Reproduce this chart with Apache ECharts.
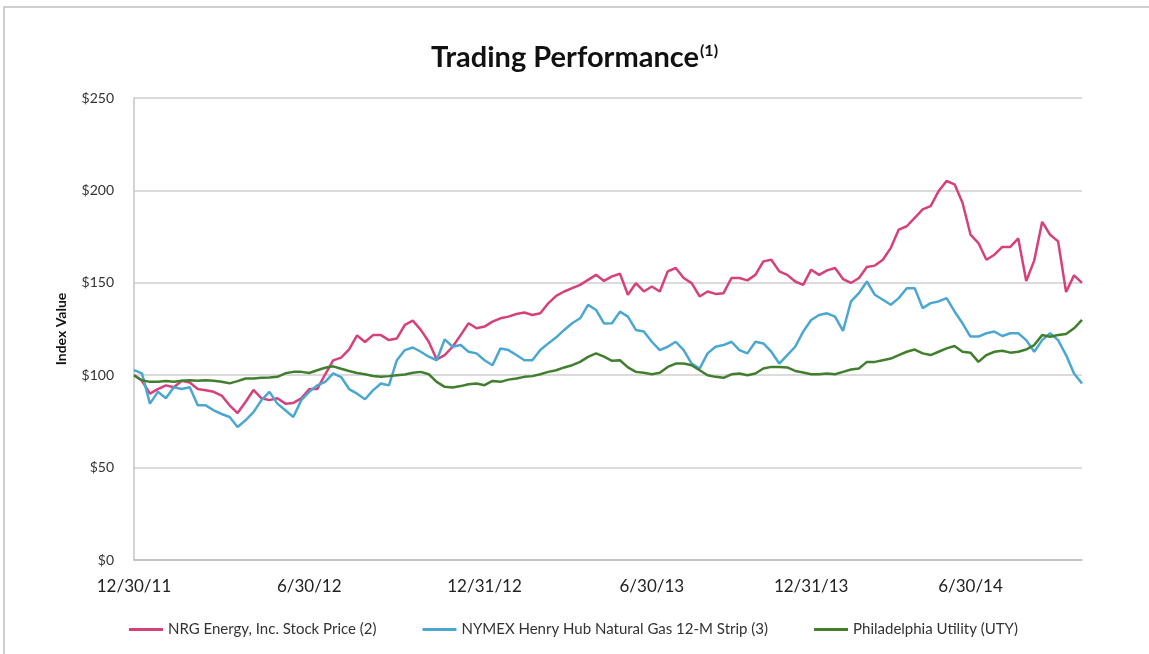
<!DOCTYPE html>
<html>
<head>
<meta charset="utf-8">
<title>Trading Performance</title>
<script src="https://cdn.jsdelivr.net/npm/echarts@6.0.0/dist/echarts.min.js"></script>
<style>
    body { margin: 0; background: #fff; }
    #chart { width: 1149px; height: 654px; }
</style>
</head>
<body>
<div id="chart"></div>
<script>
// x tick labels and the point index they sit on
var tickLabels = ['12/30/11', '6/30/12', '12/31/12', '6/30/13', '12/31/13', '6/30/14'];
var tickIndex = [0, 22, 44, 65, 85, 105];

var seriesNames = ['NRG Energy, Inc. Stock Price (2)', 'NYMEX Henry Hub Natural Gas 12-M Strip (3)', 'Philadelphia Utility (UTY)'];

// index values
var nrg = [
    100, 97, 90, 92.5, 94.5, 93.5, 97, 96, 92.5, 91.8,
    91, 89, 83.7, 79.5, 85.5, 92, 87.5, 86.5, 87.5, 84.6,
    85, 87.5, 92.5, 92.5, 100.5, 108, 109.5, 114, 121.5, 118,
    121.7, 121.7, 119, 119.9, 127.2, 129.5, 124.5, 118.1, 108.5, 110.9,
    115.4, 121.7, 128.1, 125.4, 126.3, 129, 130.8, 131.7, 133.1, 133.9,
    132.6, 133.5, 138.9, 142.9, 145.3, 147.1, 148.9, 151.6, 154.3, 151,
    153.5, 154.9, 143.5, 149.8, 145.3, 148, 145.3, 156.2, 158, 152.6,
    149.8, 142.6, 145.3, 144, 144.4, 152.6, 152.6, 151.3, 154.3, 161.6,
    162.5, 156.2, 154.3, 150.7, 148.9, 157.1, 154.3, 156.7, 158, 152,
    149.9, 152.6, 158.6, 159.3, 162.5, 168.9, 178.8, 180.6, 185.1, 189.7,
    191.5, 199.6, 205.1, 203.3, 193.3, 176.1, 171.5, 162.5, 165.2, 169.4,
    169.4, 174, 151, 162, 183, 176, 172.4, 145, 154, 150
];
var nymex = [
    102.7, 101, 84.6, 91, 87.5, 93.5, 92.5, 93.5, 83.7, 83.7,
    81, 79, 77.4, 72, 75.6, 80, 86.5, 91, 84.6, 81,
    77.4, 86.5, 91, 94.5, 96.4, 101, 99, 92.5, 90, 87,
    91.8, 95.5, 94.5, 108.1, 113.6, 115, 112.7, 110, 108.1, 119.4,
    115.4, 116.3, 112.7, 111.8, 108.1, 105.4, 114.5, 113.6, 110.9, 108.1,
    108.1, 113.6, 117.2, 120.5, 124.5, 128.1, 130.8, 138.1, 135.3, 128,
    128.1, 134.4, 131.7, 124.5, 123.6, 118.1, 113.6, 115.4, 118.1, 113.6,
    106.3, 103.6, 111.8, 115.4, 116.3, 118.1, 113.6, 111.8, 118.1, 117.2,
    112.7, 106.3, 110.9, 115.4, 123.6, 129.9, 132.6, 133.5, 131.7, 124,
    139.9, 144.4, 150.7, 143.5, 140.8, 138.1, 141.7, 147.1, 147.1, 136.3,
    139, 139.9, 141.7, 134.5, 128.1, 120.9, 120.9, 122.7, 123.6, 121.2,
    122.7, 122.7, 119, 112.7, 119, 122.7, 119, 110.9, 100.9, 95.5
];
var uty = [
    100, 97.3, 96.4, 96.4, 96.8, 96.4, 97, 97.3, 97, 97.3,
    97, 96.4, 95.6, 96.8, 98.2, 98.2, 98.6, 98.8, 99.1, 101,
    101.8, 101.8, 101.2, 102.7, 104, 104.8, 103.5, 102.3, 101.2, 100.5,
    99.6, 99.1, 99.5, 100, 100.4, 101.3, 101.8, 100.5, 96.4, 93.7,
    93.3, 94.1, 95.1, 95.5, 94.6, 96.9, 96.4, 97.6, 98.2, 99.1,
    99.5, 100.5, 101.8, 102.7, 104.2, 105.4, 107.2, 109.9, 111.8, 110,
    107.8, 108.1, 104.2, 101.8, 101.3, 100.5, 101.3, 104.5, 106.3, 106.3,
    105.4, 102.7, 100, 99.1, 98.6, 100.5, 100.9, 100, 100.9, 103.6,
    104.5, 104.5, 104.2, 102.3, 101.5, 100.5, 100.5, 100.9, 100.5, 101.8,
    103.1, 103.6, 107.2, 107.2, 108.1, 109, 110.9, 112.7, 113.9, 111.8,
    110.9, 112.7, 114.5, 115.8, 112.7, 112.2, 107.2, 110.9, 112.7, 113.2,
    112.2, 112.7, 113.9, 116.3, 121.7, 120.8, 121.7, 122.3, 125.4, 129.9
];

var colors = ['#d6417b', '#4ba7d1', '#417f2f'];

var xData = [];
for (var i = 0; i < nrg.length; i++) {
    xData.push(i);
}

function makeLine(name, data, color) {
    return {
        name: name,
        type: 'line',
        data: data,
        showSymbol: false,
        symbol: 'none',
        lineStyle: { width: 2.5, color: color },
        itemStyle: { color: color }
    };
}

var chart = echarts.init(document.getElementById('chart'));
var option = {
    animation: false,
    backgroundColor: '#fff',
    title: {
        text: '{a|Trading Performance}{b|(1)}',
        left: 'center',
        top: 38,
        textStyle: {
            rich: {
                a: { fontFamily: 'Lato', fontWeight: 'bold', fontSize: 29, color: '#111' },
                b: { fontFamily: 'Lato', fontWeight: 'bold', fontSize: 16, color: '#111', verticalAlign: 'top', padding: [0, 0, 14, 1] }
            }
        }
    },
    graphic: [{
        type: 'polyline',
        shape: { points: [[4, 654], [4, 7], [1149, 7]] },
        style: { stroke: '#bfbfbf', lineWidth: 1.5, fill: null }
    }],
    legend: {
        bottom: 12,
        left: 124,
        itemWidth: 34,
        itemHeight: 3,
        itemGap: 46,
        icon: 'rect',
        textStyle: { fontFamily: 'Lato', fontSize: 15, color: '#333' },
        data: seriesNames
    },
    grid: {
        left: 134,
        right: 67,
        top: 98,
        bottom: 94,
        containLabel: false
    },
    xAxis: {
        type: 'category',
        data: xData,
        boundaryGap: false,
        axisTick: { show: false },
        axisLine: { lineStyle: { color: '#bdbdbd', width: 1.5 } },
        splitLine: { show: false },
        axisLabel: {
            margin: 18,
            fontFamily: 'Lato',
            fontSize: 17,
            color: '#222',
            interval: function(index) {
                return tickIndex.indexOf(index) > -1;
            },
            formatter: function(val, index) {
                return tickLabels[tickIndex.indexOf(Number(val))];
            }
        }
    },
    yAxis: {
        type: 'value',
        min: 0,
        max: 250,
        interval: 50,
        name: 'Index Value',
        nameLocation: 'middle',
        nameGap: 66,
        nameRotate: 90,
        nameTextStyle: { fontFamily: 'Lato', fontWeight: 'bold', fontSize: 14, color: '#111' },
        axisLine: { show: true, lineStyle: { color: '#c4c4c4', width: 1.5 } },
        axisTick: { show: false },
        splitLine: { lineStyle: { color: '#cfcfcf', width: 1.5 } },
        axisLabel: {
            margin: 20,
            fontFamily: 'Lato',
            fontSize: 14,
            color: '#333',
            formatter: function(v) {
                return '$' + v;
            }
        }
    },
    series: [
        makeLine(seriesNames[0], nrg, colors[0]),
        makeLine(seriesNames[1], nymex, colors[1]),
        makeLine(seriesNames[2], uty, colors[2])
    ]
};
chart.setOption(option);
</script>
</body>
</html>
